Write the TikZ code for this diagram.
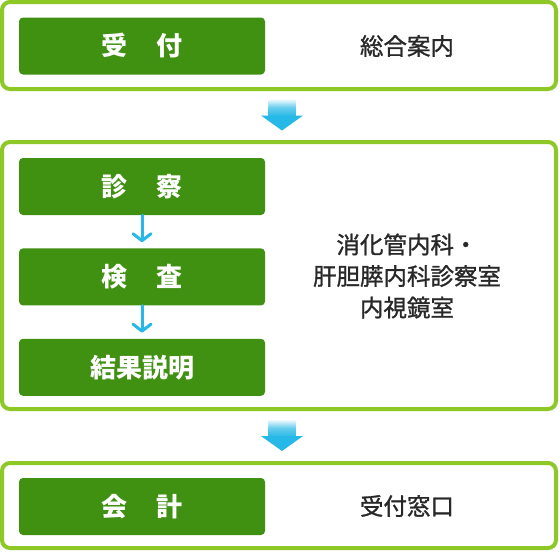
\documentclass[tikz,border=0pt]{standalone}
\usepackage{fontspec}
\setmainfont{Noto Sans CJK JP}
\newfontfamily\placefont{Noto Sans CJK JP}[FakeBold=1.2]
\usetikzlibrary{positioning,arrows.meta,calc}
\usepackage{xcolor}
\definecolor{framegreen}{RGB}{141,200,38}
\definecolor{boxgreen}{RGB}{64,144,18}
\definecolor{flowblue}{RGB}{38,184,230}
\definecolor{textgray}{RGB}{40,40,40}

\tikzset{
    stagebox/.style={draw=framegreen, line width=4pt, rounded corners=8pt, rectangle, minimum width=554pt, inner sep=0pt},
    stepbox/.style={fill=boxgreen, rounded corners=4pt, rectangle, minimum width=246pt, minimum height=57pt, inner sep=0pt,
        text=white, font=\fontsize{26}{30}\selectfont\bfseries},
    placelabel/.style={text=textgray, align=center, font=\placefont\fontsize{23.5}{31.5}\selectfont},
    flowarrow/.style={draw=flowblue, line width=3pt, line cap=round, -{Straight Barb[length=7pt,width=18pt,line cap=round,line join=round]}, shorten >=6pt}
}

\begin{document}
\begin{tikzpicture}[x=1pt, y=1pt, node distance=33pt]
    \useasboundingbox[fill=white] (0,0) rectangle (560,-552);

    % outer stage frames
    \node (stage1) [stagebox, minimum height=87pt] at (279,-45.5) {};
    \node (stage2) [stagebox, minimum height=267pt] at (279,-275.5) {};
    \node (stage3) [stagebox, minimum height=85pt] at (279,-505.5) {};

    % steps
    \node (uketsuke) [stepbox] at (142,-46) {受\hspace{1.08em}付};
    \node (shinsatsu) [stepbox] at (142,-186.5) {診\hspace{1.08em}察};
    \node (kensa) [stepbox, below=of shinsatsu] {検\hspace{1.08em}査};
    \node (setsumei) [stepbox, below=of kensa] {結果説明};
    \node (kaikei) [stepbox] at (142,-506.5) {会\hspace{1.08em}計};

    % places
    \node (annai) [placelabel] at (407,-46) {総合案内};
    \node (shinryo) [placelabel] at (407,-276) {消化管内科・\\肝胆膵内科診察室\\内視鏡室};
    \node (madoguchi) [placelabel] at (407,-506) {受付窓口};

    % small arrows
    \draw[flowarrow] (shinsatsu) -- (kensa);
    \draw[flowarrow] (kensa) -- (setsumei);

    % big arrows between stages
    \foreach \from/\to in {stage1/stage2, stage2/stage3} {
        \coordinate (gap) at ($(\from.south)!0.5!(\to.north)+(3,0)$);
        \shade[top color=white, bottom color=flowblue, middle color=flowblue!70]
            ([xshift=-13.5pt,yshift=17pt]gap) rectangle ([xshift=13.5pt,yshift=-1pt]gap);
        \fill[flowblue] ([xshift=-21pt]gap) -- ([xshift=21pt]gap) -- ([yshift=-15pt]gap) -- cycle;
    }
\end{tikzpicture}
\end{document}
